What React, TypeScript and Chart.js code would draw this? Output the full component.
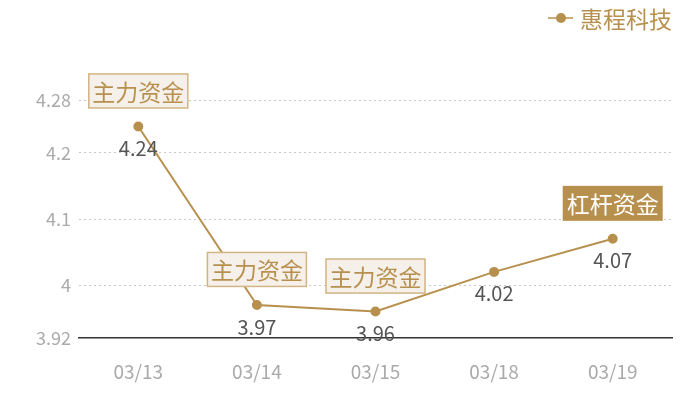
import React, { useEffect, useRef } from "react";
import { Chart, registerables, Plugin } from "chart.js";

Chart.register(...registerables);

const dates = ["03/13", "03/14", "03/15", "03/18", "03/19"];
const prices = [4.24, 3.97, 3.96, 4.02, 4.07];
const tags = ["主力资金", "主力资金", "主力资金", "", "杠杆资金"];
const yTicks = [3.92, 4, 4.1, 4.2, 4.28];
const seriesName = "惠程科技";

const GOLD = "#b8904e";
const FONT = "'Noto Sans CJK SC', 'Noto Sans', sans-serif";

// value labels under points, tag boxes above them, legend top right
const labelsPlugin: Plugin<"line"> = {
  id: "pointLabels",
  afterDatasetsDraw(chart) {
    const { ctx } = chart;
    const meta = chart.getDatasetMeta(0);
    ctx.save();
    ctx.textAlign = "center";
    ctx.textBaseline = "middle";
    meta.data.forEach((pt, i) => {
      const { x, y } = pt.getProps(["x", "y"], true) as { x: number; y: number };
      ctx.font = `20px ${FONT}`;
      ctx.fillStyle = "#555";
      ctx.fillText(String(prices[i]), x, y + 22);

      const tag = tags[i];
      if (!tag) return;
      const filled = tag === "杠杆资金";
      ctx.font = `23px ${FONT}`;
      const w = ctx.measureText(tag).width + 8;
      const h = 35;
      const bx = x - w / 2;
      const by = y - 18 - h;
      ctx.fillStyle = filled ? GOLD : "#f5f0ea";
      ctx.fillRect(bx, by, w, h);
      if (!filled) {
        ctx.strokeStyle = "#d2b585";
        ctx.lineWidth = 1.5;
        ctx.strokeRect(bx + 0.5, by + 0.5, w - 1, h - 1);
      }
      ctx.fillStyle = filled ? "#fff" : GOLD;
      ctx.fillText(tag, x, by + h / 2 + 1);
    });

    // legend
    const ly = 18;
    ctx.font = `23px ${FONT}`;
    ctx.textAlign = "left";
    const tx = 580;
    ctx.strokeStyle = GOLD;
    ctx.lineWidth = 1.5;
    ctx.beginPath();
    ctx.moveTo(tx - 32, ly);
    ctx.lineTo(tx - 7, ly);
    ctx.stroke();
    ctx.fillStyle = GOLD;
    ctx.beginPath();
    ctx.arc(tx - 19, ly, 5, 0, Math.PI * 2);
    ctx.fill();
    ctx.fillText(chart.data.datasets[0].label || "", tx, ly + 1);
    ctx.restore();
  },
};

export default function App() {
  const ref = useRef<HTMLCanvasElement | null>(null);

  useEffect(() => {
    const ctx = ref.current?.getContext("2d");
    if (!ctx) return;
    const chart = new Chart(ctx, {
      type: "line",
      data: {
        labels: dates,
        datasets: [
          {
            label: seriesName,
            data: prices,
            borderColor: GOLD,
            backgroundColor: GOLD,
            borderWidth: 2,
            pointRadius: 4,
            pointHoverRadius: 4,
            tension: 0,
          },
        ],
      },
      options: {
        animation: false,
        responsive: false,
        maintainAspectRatio: false,
        layout: { padding: { top: 100, right: 28, left: 0, bottom: 0 } },
        plugins: { legend: { display: false }, tooltip: { enabled: false } },
        scales: {
          x: {
            offset: true,
            grid: { display: false, drawTicks: false },
            border: { display: true, color: "#333", width: 1.5 },
            ticks: { color: "#aaa", font: { family: FONT, size: 19 }, padding: 22 },
            afterFit: (s) => {
              s.height = 62;
            },
          },
          y: {
            min: 3.92,
            max: 4.28,
            afterBuildTicks: (s) => {
              s.ticks = yTicks.map((v) => ({ value: v }));
            },
            grid: {
              drawTicks: false,
              color: (c) => (c.tick && c.tick.value === 3.92 ? "rgba(0,0,0,0)" : "#c8c8c8"),
            },
            border: { display: false, dash: [2, 3] },
            ticks: {
              color: "#aaa",
              font: { family: FONT, size: 18 },
              padding: 8,
              callback: (v) => String(Number(v)),
            },
            afterFit: (s) => {
              s.width = 79;
            },
          },
        },
      },
      plugins: [labelsPlugin],
    });
    return () => chart.destroy();
  }, []);

  return (
    <div style={{ position: "absolute", left: 0, top: 0, width: 700, height: 400 }}>
      <canvas ref={ref} width={700} height={400} />
    </div>
  );
}
